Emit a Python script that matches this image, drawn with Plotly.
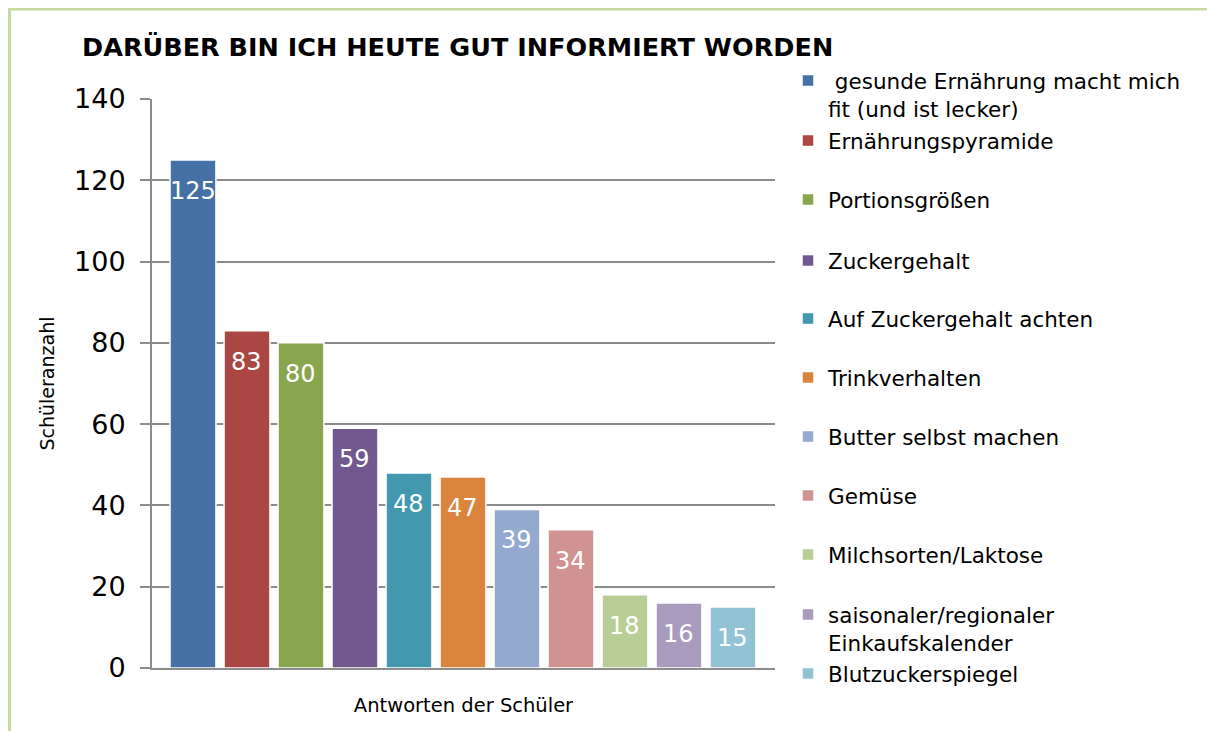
import plotly.graph_objects as go

title = "DARÜBER BIN ICH HEUTE GUT INFORMIERT WORDEN"
categories = [
    " gesunde Ernährung macht mich<br>fit (und ist lecker)",
    "Ernährungspyramide",
    "Portionsgrößen",
    "Zuckergehalt",
    "Auf Zuckergehalt achten",
    "Trinkverhalten",
    "Butter selbst machen",
    "Gemüse",
    "Milchsorten/Laktose",
    "saisonaler/regionaler<br>Einkaufskalender",
    "Blutzuckerspiegel",
]
values = [125, 83, 80, 59, 48, 47, 39, 34, 18, 16, 15]
colors = ["#4571A6", "#AA4643", "#89A54E", "#71588F", "#4198AF", "#DB843D",
          "#93A9CF", "#D19392", "#B9CD96", "#A99BBD", "#92C3D4"]
y_ticks = [0, 20, 40, 60, 80, 100, 120, 140]
x_title = "Antworten der Schüler"
y_title = "Schüleranzahl"

# page body has an 8px margin, so the figure is sized/positioned accordingly
W, H = 1207, 723
PL, PR, PT, PB = 144, 767, 91, 660   # plot area in figure pixels
PW, PH = PR - PL, PB - PT
FONT = "DejaVu Sans"
GRID = "#8C8C8C"

# legend entry vertical centres (figure pixels) of the first text line
legend_px = [74, 134, 193, 254, 312, 371, 430, 489, 548, 608, 667]

fig = go.Figure()
layout_legends = {}
for i, (name, v, c) in enumerate(zip(categories, values, colors)):
    lname = "legend" if i == 0 else f"legend{i+1}"
    fig.add_trace(go.Bar(
        x=[i], y=[v], name=name, legend=lname,
        marker=dict(color=c, line=dict(color="white", width=1.5)),
        width=0.85, hoverinfo="name+y",
    ))
    fig.add_annotation(x=i, y=v, text=str(v), showarrow=False,
                       yshift=-31, font=dict(family=FONT, size=24, color="white"))
    layout_legends[lname] = dict(
        x=780 / W, xref="container", xanchor="left",
        y=1 - (legend_px[i] - 22) / H, yref="container", yanchor="top",
        font=dict(family=FONT, size=21.5, color="black"),
        bgcolor="rgba(0,0,0,0)", borderwidth=0, valign="top",
        itemwidth=30,
    )

fig.update_layout(
    width=W, height=H,
    paper_bgcolor="white", plot_bgcolor="white",
    margin=dict(l=PL, r=W - PR, t=PT, b=H - PB, autoexpand=False),
    barmode="overlay",
    showlegend=True,
    title=dict(text=f"<b>{title}</b>", x=74 / W, xanchor="left",
               y=1 - 39 / H, yanchor="middle", yref="container",
               font=dict(family=FONT, size=25.5, color="black")),
    font=dict(family=FONT, color="black"),
    **layout_legends,
)

fig.update_xaxes(
    range=[-0.759, 10.778], showticklabels=False, showgrid=False,
    zeroline=False, showline=True, linecolor=GRID, linewidth=2,
    ticks="", fixedrange=True,
    title=dict(text=x_title, font=dict(family=FONT, size=19.5), standoff=29),
)
fig.update_yaxes(
    range=[0, 140], tickvals=y_ticks, showgrid=True, gridcolor=GRID, gridwidth=2,
    zeroline=False, showline=True, linecolor=GRID, linewidth=2,
    ticks="outside", ticklen=10, tickcolor=GRID, tickwidth=2,
    ticklabelstandoff=9,
    tickfont=dict(family=FONT, size=27, color="black"),
    title=dict(text=y_title, font=dict(family=FONT, size=19), standoff=14),
)

# light-green frame along the top and left edges
frame = "#C6DB9E"
fig.add_shape(type="line", xref="paper", yref="paper",
              x0=(0 - PL) / PW, x1=(W - PL) / PW,
              y0=1 + (PT - 1) / PH, y1=1 + (PT - 1) / PH,
              line=dict(color=frame, width=3))
fig.add_shape(type="line", xref="paper", yref="paper",
              x0=(1.5 - PL) / PW, x1=(1.5 - PL) / PW,
              y0=1 + (PT - 1) / PH, y1=-(H - PB) / PH,
              line=dict(color=frame, width=3))

fig.write_html("out.html")
